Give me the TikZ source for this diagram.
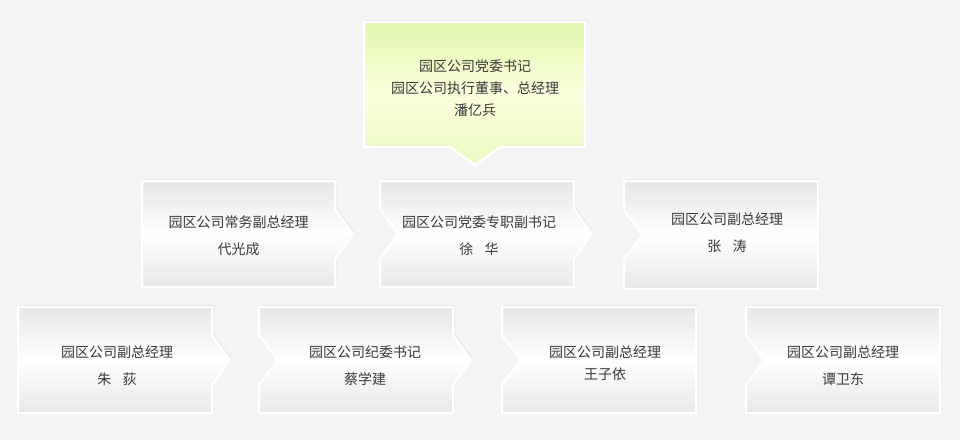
\documentclass[tikz,border=0pt]{standalone}
\usepackage{fontspec}
\setmainfont{Noto Sans CJK SC}
\definecolor{bg}{HTML}{F4F4F4}
\definecolor{txt}{HTML}{3A3A3A}
\definecolor{gtop}{HTML}{E2F7AE}
\definecolor{gmid}{HTML}{FAFFDC}
\definecolor{gbot}{HTML}{EAF8C2}
\definecolor{btop}{HTML}{E6E6E6}
\definecolor{bbot}{HTML}{E8E8E8}
\begin{document}
\begin{tikzpicture}[x=1pt,y=-1pt,
  boxshape/.style={draw=white,line width=2pt,line join=round,top color=btop,bottom color=bbot,middle color=white},
  shadowshape/.style={fill=black!9,draw=none},
  lbl/.style={text=txt,font=\fontsize{14}{27}\selectfont,align=center,inner sep=0pt}]
\useasboundingbox (0,0) rectangle (960,440);
\fill[bg] (0,0) rectangle (960,440);
\newcommand\myrarr[3]{-- (#1,#2-25) -- (#1+18,#2) -- (#1,#2+25)}
\newcommand\mylnotch[3]{-- (#1,#2+25) -- (#1+18,#2) -- (#1,#2-25)}
\newcommand\mynone[3]{}
\newcommand\orgbox[6]{%
  \pgfmathsetmacro\ym{(#2+#4)/2}%
  \fill[shadowshape,shift={(1.5,-2)}] (#1,#2) -- (#3,#2) #6{#3}{\ym}{} -- (#3,#4) -- (#1,#4) #5{#1}{\ym}{} -- cycle;
  \path[boxshape] (#1,#2) -- (#3,#2) #6{#3}{\ym}{} -- (#3,#4) -- (#1,#4) #5{#1}{\ym}{} -- cycle;}
% top box
\fill[shadowshape,shift={(1.5,-2)}] (364,22) -- (585,22) -- (585,147) -- (500,147) -- (475,165) -- (450,147) -- (364,147) -- cycle;
\path[draw=white,line width=2pt,line join=round,top color=gtop,bottom color=gbot,middle color=gmid]
  (364,22) -- (585,22) -- (585,147) -- (500,147) -- (475,165) -- (450,147) -- (364,147) -- cycle;
\node[lbl,font=\fontsize{14}{22}\selectfont] (top) at (475,88) {园区公司党委书记\\园区公司执行董事、总经理\\潘亿兵};
% row 2
\orgbox{142}{181}{335}{287}{\mynone}{\myrarr}
\orgbox{380}{181}{574}{287}{\mylnotch}{\myrarr}
\orgbox{624}{181}{818}{289}{\mylnotch}{\mynone}
\node[lbl] (a) at (238.5,236) {园区公司常务副总经理\\代光成};
\node[lbl] (b) at (479,236) {园区公司党委专职副书记\\徐\hspace{0.8em}华};
\node[lbl] (c) at (727,233) {园区公司副总经理\\张\hspace{0.8em}涛};
% row 3
\orgbox{18}{307}{212}{413}{\mynone}{\myrarr}
\orgbox{259}{307}{453}{413}{\mylnotch}{\myrarr}
\orgbox{502}{307}{696}{413}{\mylnotch}{\mynone}
\orgbox{746}{307}{940}{413}{\mylnotch}{\mynone}
\node[lbl] (d) at (117,366) {园区公司副总经理\\朱\hspace{0.8em}荻};
\node[lbl] (e) at (365,366) {园区公司纪委书记\\蔡学建};
\node[lbl,font=\fontsize{14}{22}\selectfont] (f) at (605,363) {园区公司副总经理\\王子依};
\node[lbl] (g) at (843,366) {园区公司副总经理\\谭卫东};
\end{tikzpicture}
\end{document}
